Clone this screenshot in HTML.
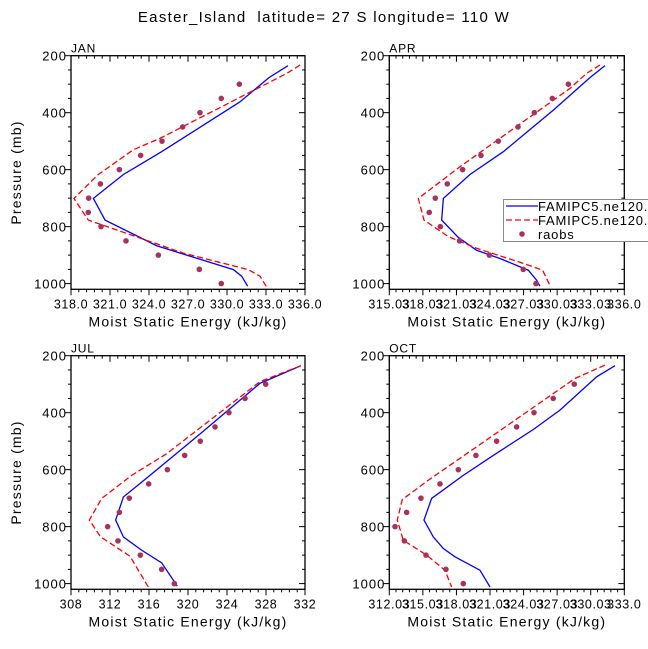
<!DOCTYPE html>
<html><head><meta charset="utf-8"><style>
body{margin:0;background:#fff}
svg{display:block;font-family:"Liberation Sans",sans-serif}
text{white-space:pre}
</style></head><body>
<svg id="chart" width="648" height="649" viewBox="0 0 648 649">
<text x="324" y="22" text-anchor="middle" font-size="15" letter-spacing="1.3">Easter_Island  latitude= 27 S longitude= 110 W</text>
</svg>
<script>
const NS="http://www.w3.org/2000/svg";
const svg=document.getElementById('chart');
const obsP=[300,350,400,450,500,550,600,650,700,750,800,850,900,950,1000];
// JAN
const janBlueP=[235,277,362,537,617,701,777,867,900,951,974,1009];
const janBlueV=[334.69,333.23,331.0,324.97,322.03,319.72,320.62,324.59,326.9,330.49,331.13,331.59];
const janRedP=[233,262,490,530,617,701,777,893,951,974,1012];
const janRedV=[335.62,334.6,324.85,322.8,320.1,318.23,319.33,326.64,331.64,332.54,333.05];
const janObs=[330.95,329.56,327.92,326.59,325.0,323.36,321.72,320.26,319.36,319.33,320.31,322.23,324.72,327.87,329.56];
const janTicks=["318.0","321.0","324.0","327.0","330.0","333.0","336.0"];
// APR
const aprBlueP=[235,277,391,537,617,701,777,838,883,912,953,988,1009];
const aprBlueV=[334.30,332.96,329.69,325.22,322.24,319.86,319.71,321.2,322.83,324.92,327.45,328.2,328.49];
const aprRedP=[233,262,315,590,701,777,835,876,929,953,1012];
const aprRedV=[333.85,332.66,331.17,321.34,317.62,318.13,320.3,322.83,327.0,328.73,329.45];
const aprObs=[331.03,329.6,327.99,326.53,324.77,323.22,321.58,320.21,319.14,318.6,319.59,321.31,323.97,327.0,328.14];
const aprTicks=["315.03","318.03","321.03","324.03","327.03","330.03","333.03","336.0"];
// JUL
const julBlueP=[235,277,297,475,620,696,777,836,883,927,1009];
const julBlueV=[331.59,328.75,327.38,321.23,316.1,313.37,312.58,313.37,315.25,317.3,318.9];
const julRedP=[235,291,544,620,701,777,836,904,1012];
const julRedV=[331.59,327.38,317.81,314.22,311.15,309.88,311.04,314.05,315.93];
const julObs=[327.97,325.85,324.2,322.77,321.26,319.66,317.88,315.97,313.98,312.96,311.76,312.82,315.11,317.3,318.6];
const julTicks=["308","312","316","320","324","328","332"];
// OCT
const octBlueP=[235,274,391,459,550,620,701,777,836,877,906,953,1012];
const octBlueV=[332.2,330.56,327.28,324.9,321.32,318.64,315.81,315.13,315.96,316.86,317.9,320.13,321.03];
const octRedP=[233,280,520,637,705,777,848,900,953,1012];
const octRedV=[331.3,328.62,319.83,315.52,313.19,312.74,313.28,315.37,317.0,317.6];
const octObs=[328.56,326.68,324.96,323.41,321.62,319.77,318.2,316.56,314.86,313.58,312.54,313.37,315.31,317.09,318.64];
const octTicks=["312.03","315.03","318.03","321.03","324.03","327.03","330.03","333.0"];
const yTicks=[200,400,600,800,1000];

function el(tag,attrs,parent){const e=document.createElementNS(NS,tag);for(const k in attrs)e.setAttribute(k,attrs[k]);(parent||svg).appendChild(e);return e;}

function panel(name,L,T,W,H,xmin,xmax,xTickLabels,bP,bV,rP,rV,oV,showYTitle){
  const g=el('g',{});
  
  
  const pmin=200,pmax=1020;
  const X=v=>L+(v-xmin)/(xmax-xmin)*W;
  const Y=p=>T+(p-pmin)/(pmax-pmin)*H;
  const lbl=el('text',{x:L,y:T-3,'font-size':12,'letter-spacing':0.8},g);lbl.textContent=name.toUpperCase();
  
  
  for(let p=200;p<=1000;p+=50){
    const maj=(p%200===0);const y=Y(p);
    el('line',{x1:L-(maj?6:3),y1:y,x2:L,y2:y,stroke:'#000','stroke-width':1},g);
    el('line',{x1:L+W-(maj?6:3),y1:y,x2:L+W,y2:y,stroke:'#000','stroke-width':1},g);
  }
  yTicks.forEach(p=>{const t=el('text',{x:L-4,y:Y(p)+5,'text-anchor':'end','font-size':13,'letter-spacing':1},g);t.textContent=p;
    
    });
  const n=xTickLabels.length;const step=(xmax-xmin)/(n-1);
  for(let i=0;i<n;i++){const x=X(xmin+i*step);
    el('line',{x1:x,y1:T+H,x2:x,y2:T+H+6,stroke:'#000'},g);
    el('line',{x1:x,y1:T,x2:x,y2:T+6,stroke:'#000'},g);
    if(i<n-1)for(let k=1;k<5;k++){const xm=X(xmin+i*step+k*step/5);
      el('line',{x1:xm,y1:T+H,x2:xm,y2:T+H+3,stroke:'#000'},g);
      el('line',{x1:xm,y1:T,x2:xm,y2:T+3,stroke:'#000'},g);}
    const t=el('text',{x:x,y:T+H+19,'text-anchor':'middle','font-size':12.5,'letter-spacing':0.6},g);t.textContent=xTickLabels[i];
    
    
  }
  const xt=el('text',{x:L+W/2,y:T+H+37,'text-anchor':'middle','font-size':14,'letter-spacing':1.2},g);xt.textContent='Moist Static Energy (kJ/kg)';
  
  
  if(showYTitle){const yt=el('text',{x:0,y:0,'text-anchor':'middle','font-size':14,'letter-spacing':1.2,transform:`translate(21,${T+H/2}) rotate(-90)`},g);yt.textContent='Pressure (mb)';
    
    }
  const blue=el('polyline',{points:bP.map((p,i)=>X(bV[i])+','+Y(p)).join(' '),fill:'none',stroke:'#0000ff','stroke-width':1.3},g);
  
  
  const red=el('polyline',{points:rP.map((p,i)=>X(rV[i])+','+Y(p)).join(' '),fill:'none',stroke:'#ff0000','stroke-width':1.3,'stroke-dasharray':'6,3'},g);
  
  
  obsP.forEach((p,i)=>{const c=el('circle',{cx:X(oV[i]),cy:Y(p),r:2.8,fill:'#a8325e'},g);
    
    });
  el('rect',{x:L,y:T,width:W,height:H,fill:'none',stroke:'#000','stroke-width':1.3},g);
}
panel('jan',71,55.7,234,233.6,318,336,janTicks,janBlueP,janBlueV,janRedP,janRedV,janObs,true);
panel('apr',389.3,55.7,235,233.6,315.03,336.03,aprTicks,aprBlueP,aprBlueV,aprRedP,aprRedV,aprObs,false);
panel('jul',71,355.7,234,233.6,308,332,julTicks,julBlueP,julBlueV,julRedP,julRedV,julObs,true);
panel('oct',389.3,355.7,235,233.6,312.03,333.03,octTicks,octBlueP,octBlueV,octRedP,octRedV,octObs,false);

const lg=el('g',{});


el('rect',{x:503.5,y:199.5,width:150,height:42,fill:'#fff',stroke:'#888'},lg);
const items=[['FAMIPC5.ne120.v','#0000ff',''],['FAMIPC5.ne120.v','#ff0000','6,3'],['raobs','#a8325e','dot']];
items.forEach((it,i)=>{const y=206+i*14;
  if(it[2]==='dot'){el('circle',{cx:522,cy:y,r:2.8,fill:it[1]},lg);}
  else{el('line',{x1:506,y1:y,x2:538,y2:y,stroke:it[1],'stroke-width':1.3,'stroke-dasharray':it[2]||'none'},lg);}
  const t=el('text',{x:538,y:y+5,'font-size':13,'letter-spacing':0.8},lg);t.textContent=it[0];
  
  
});
</script>
</body></html>
